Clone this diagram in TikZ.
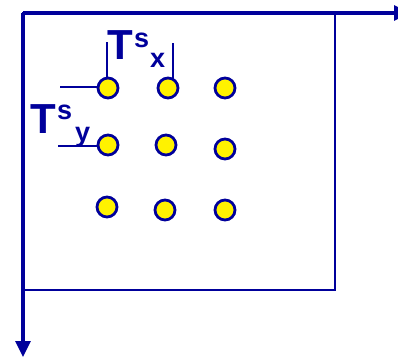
\documentclass[tikz,border=0pt]{standalone}
\usepackage{fontspec}
\setmainfont{Liberation Sans}
\usetikzlibrary{arrows.meta,backgrounds}
\definecolor{navy}{RGB}{0,0,155}
\definecolor{dotyellow}{RGB}{255,242,0}
\tikzset{
  axis/.style={draw=navy,line width=3.2pt,-{Triangle[length=16pt,width=15pt]}},
  frame/.style={draw=navy,line width=2.8pt},
  leader/.style={draw=navy,line width=2.5pt},
  dot/.style={circle,draw=navy,fill=dotyellow,line width=2.8pt,minimum size=20pt,inner sep=0pt},
  bigT/.style={text=navy,font=\fontsize{42}{42}\selectfont\bfseries,inner sep=0pt,anchor=base west},
  smallt/.style={text=navy,font=\fontsize{27}{27}\selectfont\bfseries,inner sep=0pt,anchor=base west}
}
\begin{document}
\begin{tikzpicture}[x=1pt,y=-1pt]
\useasboundingbox (0,0) rectangle (398,356);
% axes and frame
\coordinate (o) at (23,13);
\coordinate (xend) at (410,13);
\coordinate (yend) at (23,357);
\coordinate (br) at (335,290);
\draw[frame] (o) rectangle (br);
\draw[axis] (o) -- (xend);
\draw[axis] (o) -- (yend);
% dots
\node[dot] (c11) at (108,88) {};
\node[dot] (c12) at (168,88) {};
\node[dot] (c13) at (225,88) {};
\node[dot] (c21) at (108,145) {};
\node[dot] (c22) at (166,145) {};
\node[dot] (c23) at (225,149) {};
\node[dot] (c31) at (107,207) {};
\node[dot] (c32) at (165,210) {};
\node[dot] (c33) at (225,210) {};
% leaders
\coordinate (lx1) at (107,42);
\coordinate (lx2) at (173,43);
\coordinate (ly1) at (60,87);
\coordinate (ly2) at (58,146);
\begin{scope}[on background layer]
\draw[leader] (lx1) -- (lx1 |- c11.center);
\draw[leader] (lx2) -- (lx2 |- c12.center);
\draw[leader] (ly1) -- (ly1 -| c11.center);
\draw[leader] (ly2) -- (ly2 -| c21.center);
\end{scope}
% labels
\node[bigT] (tx) at (107.5,59) {T};
\node[smallt] (tx-s) at (134,47) {s};
\node[smallt] (tx-x) at (150,67) {x};
\node[bigT] (ty) at (30.5,133) {T};
\node[smallt] (ty-s) at (57,119) {s};
\node[smallt] (ty-y) at (75,141) {y};
\end{tikzpicture}
\end{document}
